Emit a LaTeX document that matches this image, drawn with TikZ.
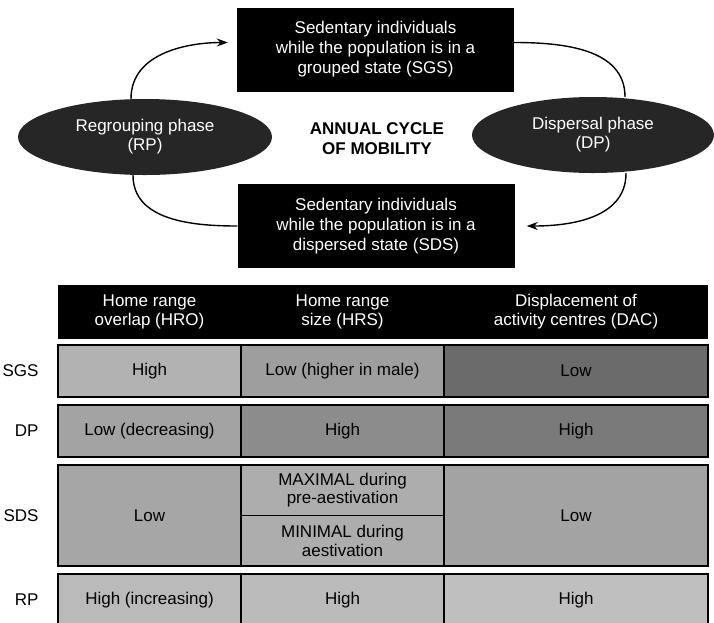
\documentclass[tikz,border=0pt]{standalone}
\usepackage{fontspec}
\setmainfont{Liberation Sans}
\usepackage{xcolor}
\usepackage{tikz}
\usetikzlibrary{shapes.geometric, arrows.meta}

\begin{document}
\begin{tikzpicture}[
  x=1pt, y=-1pt,
  state/.style={fill=black, text=white, align=center, font=\fontsize{17}{20}\selectfont,
    minimum width=277pt, minimum height=84pt, inner sep=0pt},
  phase/.style={ellipse, fill=black!85, text=white, align=center,
    font=\fontsize{17}{19}\selectfont, minimum height=76pt, inner sep=0pt},
  link/.style={line width=1.4pt},
  flow/.style={link, -{Stealth[length=11pt,width=8pt,inset=3.5pt]}},
  cell/.style={draw=black, line width=1.1pt, inner sep=0pt, align=center,
    font=\fontsize{17}{18.5}\selectfont},
  headtext/.style={text=white, align=center, font=\fontsize{17}{19}\selectfont},
  rowlabel/.style={anchor=east, font=\fontsize{17}{18}\selectfont}
]
\useasboundingbox (0,0) rectangle (714,622);

% annual cycle
\node[state] (sgs) at (375.5,49.5) {Sedentary individuals\\while the population is in a\\grouped state (SGS)};
\node[state] (sds) at (376,226) {Sedentary individuals\\while the population is in a\\dispersed state (SDS)};
\node[phase, minimum width=254pt] (rp) at (145,137) {Regrouping phase\\(RP)};
\node[phase, minimum width=242pt] (dp) at (593,135) {Dispersal phase\\(DP)};
\node[align=center, font=\bfseries\fontsize{17}{20}\selectfont] (title) at (377,139) {ANNUAL CYCLE\\OF MOBILITY};

\draw[flow, shorten >=9pt] ([xshift=-14pt]rp.north) to[out=90, in=180] ([yshift=7pt]sgs.west);
\draw[link] ([yshift=7pt]sgs.east) to[out=0, in=90] ([xshift=32pt]dp.north);
\draw[flow, shorten >=12pt] ([xshift=33pt]dp.south) to[out=-90, in=0] (sds.east);
\draw[link] (sds.west) to[out=180, in=-90] ([xshift=-12pt]rp.south);

% table header
\node[fill=black, minimum width=650pt, minimum height=54pt, inner sep=0pt] (head) at (383,312) {};
\node[headtext] (hro) at (149.5,312) {Home range\\overlap (HRO)};
\node[headtext] (hrs) at (342.5,312) {Home range\\size (HRS)};
\node[headtext] (dac) at (576,312) {Displacement of\\activity centres (DAC)};

% SGS row
\node[rowlabel] (lsgs) at (42,371) {SGS};
\node[cell, fill=black!30, minimum width=183pt, minimum height=52pt] (sgs1) at (149.5,371) {High};
\node[cell, fill=black!38, minimum width=203pt, minimum height=52pt] (sgs2) at (342.5,371) {Low (higher in male)};
\node[cell, fill=black!58, minimum width=264pt, minimum height=52pt] (sgs3) at (576,371) {Low};

% DP row
\node[rowlabel] (ldp) at (42,431) {DP};
\node[cell, fill=black!36, minimum width=183pt, minimum height=52pt] (dp1) at (149.5,431) {Low (decreasing)};
\node[cell, fill=black!45, minimum width=203pt, minimum height=52pt] (dp2) at (342.5,431) {High};
\node[cell, fill=black!52, minimum width=264pt, minimum height=52pt] (dp3) at (576,431) {High};

% SDS row
\node[rowlabel] (lsds) at (42,515.5) {SDS};
\node[cell, fill=black!35, minimum width=183pt, minimum height=101pt] (sds1) at (149.5,515.5) {Low};
\node[cell, fill=black!32, minimum width=203pt, minimum height=50.5pt] (sds2a) at (342.5,490.25) {MAXIMAL during\\pre-aestivation};
\node[cell, fill=black!32, minimum width=203pt, minimum height=50.5pt] (sds2b) at (342.5,540.75) {MINIMAL during\\aestivation};
\node[cell, fill=black!36, minimum width=264pt, minimum height=101pt] (sds3) at (576,515.5) {Low};

% RP row
\node[rowlabel] (lrp) at (42,600) {RP};
\node[cell, fill=black!27, minimum width=183pt, minimum height=52pt] (rp1) at (149.5,600) {High (increasing)};
\node[cell, fill=black!27, minimum width=203pt, minimum height=52pt] (rp2) at (342.5,600) {High};
\node[cell, fill=black!25, minimum width=264pt, minimum height=52pt] (rp3) at (576,600) {High};
\end{tikzpicture}
\end{document}
